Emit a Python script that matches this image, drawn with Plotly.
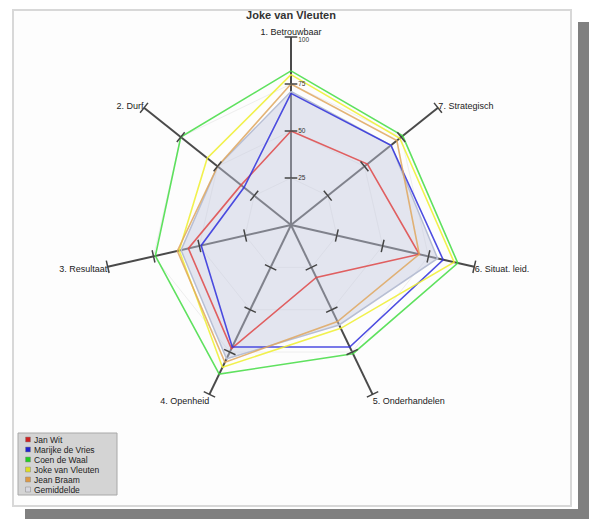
import plotly.graph_objects as go

W, H = 589, 519

categories = ["1. Betrouwbaar", "2. Durf", "3. Resultaat", "4. Openheid",
              "5. Onderhandelen", "6. Situat. leid.", "7. Strategisch"]

jan_wit = [50, 34, 56, 73, 31, 70, 52]
marijke_de_vries = [70, 32, 49, 72, 72, 83, 68]
coen_de_waal = [82, 75, 74, 88, 76, 91, 76]
joke_van_vleuten = [80, 57, 61, 84, 61, 89, 74]
jean_braam = [75, 50, 62, 81, 57, 70, 72]
gemiddelde = [71, 50, 60, 79, 59, 80, 68]

series_names = ["Jan Wit", "Marijke de Vries", "Coen de Waal",
                "Joke van Vleuten", "Jean Braam", "Gemiddelde"]
series_values = [jan_wit, marijke_de_vries, coen_de_waal,
                 joke_van_vleuten, jean_braam, gemiddelde]
series_colors = ["#e04848", "#3030dd", "#44dd44", "#f0f030", "#e0a860", "#b8bfd4"]
legend_swatch = ["#cc2222", "#2222cc", "#22cc22", "#dddd22", "#dd9944", "#d8d8e0"]

radial_ticks = [25, 50, 75, 100]
radial_tick_labels = ["25", "50", "75", "100"]

FONT = "Liberation Sans, Arial, sans-serif"


def px(x):
    return x / W


def py(y):
    return 1 - y / H


fig = go.Figure()

# Gemiddelde (filled) first
fig.add_trace(go.Scatterpolar(
    r=gemiddelde + gemiddelde[:1], theta=categories + categories[:1],
    mode="lines", fill="toself", fillcolor="rgba(195,200,222,0.45)",
    line=dict(color=series_colors[5], width=1.5), name="Gemiddelde",
    showlegend=False, hoverinfo="skip"))

for name, vals, col in zip(series_names[:5], series_values[:5], series_colors[:5]):
    fig.add_trace(go.Scatterpolar(
        r=vals + vals[:1], theta=categories + categories[:1], mode="lines",
        line=dict(color=col, width=1.6), opacity=0.85, name=name,
        showlegend=False))

# tick marks on every spoke
tr, tt, ta = [], [], []
for i, c in enumerate(categories):
    for v in radial_ticks:
        tr.append(v)
        tt.append(c)
        ta.append(-i * 360 / len(categories))
fig.add_trace(go.Scatterpolar(
    r=tr, theta=tt, mode="markers",
    marker=dict(symbol="line-ew", size=9, angle=ta,
                line=dict(color="#444", width=1.5)),
    showlegend=False, hoverinfo="skip"))

# radial value labels next to the first spoke
fig.add_trace(go.Scatterpolar(
    r=radial_ticks, theta=[categories[0]] * len(radial_ticks), mode="text",
    text=["    " + t for t in radial_tick_labels],
    textposition=["middle right"] * (len(radial_ticks) - 1) + ["bottom right"],
    textfont=dict(size=6.5, color="#333", family=FONT),
    showlegend=False, hoverinfo="skip"))

# center dot
fig.add_trace(go.Scatterpolar(r=[0], theta=categories[:1], mode="markers",
                              marker=dict(color="black", size=4),
                              showlegend=False, hoverinfo="skip"))

cx, cy, R = 291, 225, 188
fig.update_layout(
    width=W, height=H,
    margin=dict(l=0, r=0, t=0, b=0),
    paper_bgcolor="white",
    font=dict(family=FONT, size=9, color="#222"),
    title=dict(text="<b>Joke van Vleuten</b>", x=px(cx), xanchor="center",
               y=py(15), yanchor="middle", font=dict(size=11, color="#333")),
    polar=dict(
        domain=dict(x=[px(cx - R), px(cx + R)], y=[py(cy + R), py(cy - R)]),
        bgcolor="rgba(0,0,0,0)",
        gridshape="linear",
        radialaxis=dict(range=[0, 100], tickvals=radial_ticks,
                        showticklabels=False, angle=90,
                        showline=False, ticks="",
                        gridcolor="#eeeeee", gridwidth=1),
        angularaxis=dict(type="category", direction="counterclockwise",
                         rotation=90, gridcolor="#4a4a4a", gridwidth=2,
                         showline=False, ticks="",
                         tickfont=dict(size=9, color="#222")),
    ),
)

shapes = []
# shadow
shapes.append(dict(type="rect", xref="paper", yref="paper",
                   x0=px(578), x1=px(589), y0=py(519), y1=py(22),
                   fillcolor="#808080", line=dict(width=0), layer="below"))
shapes.append(dict(type="rect", xref="paper", yref="paper",
                   x0=px(25), x1=px(589), y0=py(519), y1=py(509),
                   fillcolor="#808080", line=dict(width=0), layer="below"))
# panel
shapes.append(dict(type="rect", xref="paper", yref="paper",
                   x0=px(13), x1=px(571), y0=py(506), y1=py(10),
                   fillcolor="#fdfdfd", line=dict(color="#d8d8d8", width=2),
                   layer="below"))
# legend box
shapes.append(dict(type="rect", xref="paper", yref="paper",
                   x0=px(18), x1=px(117), y0=py(495), y1=py(433),
                   fillcolor="#d4d4d4", line=dict(color="#a8a8a8", width=1),
                   layer="above"))
annotations = []
for k, (name, sw) in enumerate(zip(series_names, legend_swatch)):
    yy = 439.5 + k * 10
    shapes.append(dict(type="rect", xref="paper", yref="paper",
                       x0=px(25.5), x1=px(30.5), y0=py(yy + 2.5), y1=py(yy - 2.5),
                       fillcolor=sw, line=dict(color="#888", width=0.5),
                       layer="above"))
    annotations.append(dict(text=name, xref="paper", yref="paper",
                            x=px(32), y=py(yy), xanchor="left", yanchor="middle",
                            showarrow=False, font=dict(size=8.5, color="#222")))

fig.update_layout(shapes=shapes, annotations=annotations)

fig.write_html("out.html", config={"displayModeBar": False},
               post_script="document.body.style.margin='0';")
